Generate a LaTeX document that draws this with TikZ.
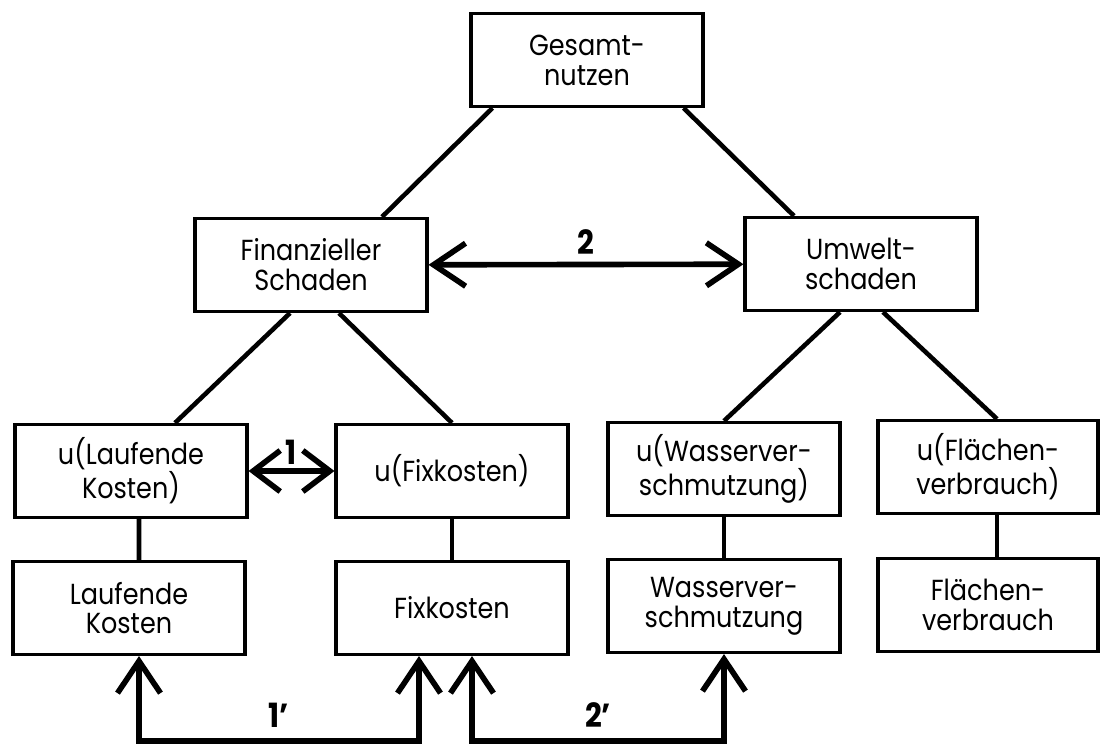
\documentclass[tikz,border=0pt]{standalone}
\usepackage{fontspec}
\setmainfont[FakeStretch=0.88]{Poppins}
\usetikzlibrary{arrows.meta}

\begin{document}
\begin{tikzpicture}[x=0.02cm, y=-0.02cm, line width=2.6pt,
    box/.style={draw, rectangle, line width=1.8pt, align=center, minimum width=4.64cm, minimum height=1.86cm, font=\fontsize{16.5pt}{17pt}\selectfont},
    num/.style={font=\fontsize{19pt}{19pt}\selectfont\bfseries},
    >={Straight Barb[length=0.64cm, width=0.86cm]}]
  \useasboundingbox (0,0) rectangle (1100,745);
  \node[box] (ges) at (587,60) {Gesamt-\\nutzen};
  \node[box] (fin) at (311,265) {Finanzieller\\Schaden};
  \node[box] (umw) at (861,264) {Umwelt-\\schaden};
  \node[box] (ulk) at (131,471) {u(Laufende\\Kosten)};
  \node[box] (ufk) at (452,471) {u(Fixkosten)};
  \node[box] (uws) at (724,469) {u(Wasserver-\\schmutzung)};
  \node[box, minimum width=4.4cm] (ufl) at (988,467) {u(Flächen-\\verbrauch)};
  \node[box] (lk) at (129,608) {Laufende\\Kosten};
  \node[box] (fk) at (452,608) {Fixkosten};
  \node[box] (ws) at (724,606) {Wasserver-\\schmutzung};
  \node[box, minimum width=4.4cm] (fl) at (988,605) {Flächen-\\verbrauch};
  \draw ([xshift=0.46cm]ges.south west) -- ([xshift=1.42cm]fin.north);
  \draw ([xshift=-0.42cm]ges.south east) -- ([xshift=-1.34cm]umw.north);
  \draw ([xshift=-0.42cm]fin.south) -- ([xshift=0.88cm]ulk.north);
  \draw ([xshift=0.56cm]fin.south) -- (ufk.north);
  \draw ([xshift=-0.42cm]umw.south) -- (uws.north);
  \draw ([xshift=0.44cm]umw.south) -- ([xshift=0.18cm]ufl.north);
  \draw ([xshift=0.16cm]ulk.south) -- ([xshift=0.2cm]lk.north);
  \draw (ufk) -- (fk);
  \draw (uws) -- (ws);
  \draw ([xshift=0.18cm]ufl.south) -- ([xshift=0.18cm]fl.north);
  \draw[<->, line width=3.2pt] (fin) -- node[above=1pt, num] {2} (umw);
  \draw[<->, line width=3.2pt, >={Straight Barb[length=0.54cm, width=0.82cm]}] (ulk) -- node[above=-1pt, num] {1} (ufk);
  \draw[<->, line width=3.2pt] ([xshift=0.2cm]lk.south) -- ++(0,85) -| node[pos=0.25, above=3pt, num] {1'} ([xshift=-0.66cm]fk.south);
  \draw[<->, line width=3.2pt] ([xshift=0.4cm]fk.south) -- ++(0,85) -| node[pos=0.25, above=3pt, num] {2'} (ws.south);
\end{tikzpicture}
\end{document}
